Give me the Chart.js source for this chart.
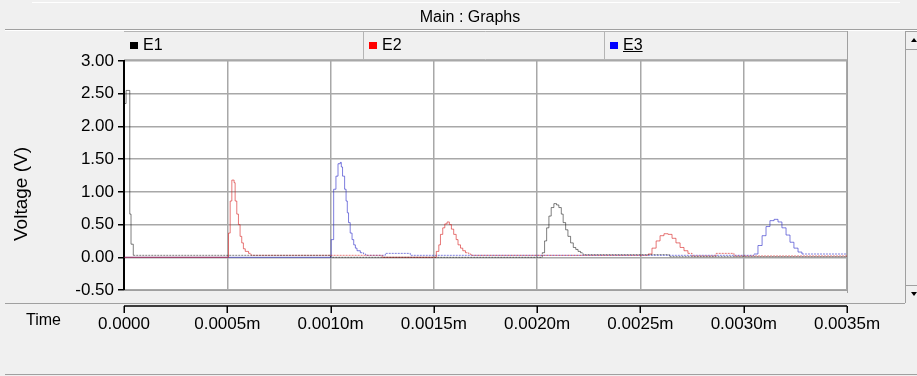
<!DOCTYPE html>
<html><head><meta charset="utf-8">
<script src="https://cdn.jsdelivr.net/npm/chart.js@4/dist/chart.umd.min.js"></script>
<style>
html,body{margin:0;padding:0;background:#f0f0f0;}
#wrap{position:relative;width:917px;height:376px;overflow:hidden;font-family:"Liberation Sans",Arial,sans-serif;color:#000;}
#c{position:absolute;left:0;top:0;}
.t{position:absolute;white-space:nowrap;font-size:16px;line-height:1;}
.sq{position:absolute;width:8px;height:7px;}
</style></head><body>
<div id="wrap">
<canvas id="c" width="917" height="376"></canvas>
<div class="t" id="title" style="left:0;width:940px;top:9px;text-align:center">Main : Graphs</div>
<div id="legend"></div>
<div class="t" id="ytitle" style="left:20px;top:194px;font-size:19px;transform:translate(-50%,-50%) rotate(-90deg)">Voltage (V)</div>
<div class="t" id="xtitle" style="left:26px;top:312px">Time</div>
</div>
<script>
// ---- data ----
const seriesNames = ["E1", "E2", "E3"];
const legendColors = ["#000000", "#ff0000", "#0000ff"];
const lineColors = ["rgba(0,0,0,0.5)", "rgba(215,30,30,0.6)", "rgba(40,40,200,0.6)"];

const tE1 = [0, 0.000002, 0.000010, 0.000028, 0.000034, 0.000045, 0.001000, 0.002025, 0.002036, 0.002046, 0.002057, 0.002068, 0.002081, 0.002094, 0.002105, 0.002117, 0.002126, 0.002138, 0.002149, 0.002162, 0.002175, 0.002187, 0.002198, 0.002210, 0.002222, 0.002640, 0.003500];
const vE1 = [0, 2.35, 2.55, 0.66, 0.20, 0.03, 0.00, 0.07, 0.25, 0.45, 0.63, 0.76, 0.82, 0.80, 0.76, 0.66, 0.53, 0.42, 0.32, 0.22, 0.15, 0.12, 0.09, 0.07, 0.04, 0.01, 0.01];

const tE2 = [0, 0.000506, 0.000514, 0.000522, 0.000533, 0.000538, 0.000546, 0.000554, 0.000562, 0.000570, 0.000578, 0.000587, 0.000603, 0.000615, 0.001250, 0.001512, 0.001524, 0.001532, 0.001543, 0.001553, 0.001564, 0.001575, 0.001585, 0.001596, 0.001608, 0.001617, 0.001629, 0.001640, 0.001653, 0.001669, 0.001680, 0.002537, 0.002556, 0.002576, 0.002595, 0.002614, 0.002634, 0.002653, 0.002672, 0.002692, 0.002711, 0.002730, 0.002750, 0.002866, 0.002953, 0.003500];
const vE2 = [0, 0.37, 0.86, 1.18, 1.14, 0.86, 0.66, 0.50, 0.32, 0.22, 0.13, 0.09, 0.06, 0.03, 0.00, 0.09, 0.19, 0.35, 0.45, 0.51, 0.54, 0.50, 0.43, 0.35, 0.27, 0.19, 0.14, 0.10, 0.07, 0.05, 0.03, 0.05, 0.14, 0.25, 0.33, 0.36, 0.35, 0.29, 0.22, 0.15, 0.10, 0.06, 0.02, 0.06, 0.02, 0.02];

const tE3 = [0, 0.001003, 0.001015, 0.001026, 0.001036, 0.001047, 0.001052, 0.001058, 0.001068, 0.001075, 0.001081, 0.001087, 0.001095, 0.001104, 0.001112, 0.001120, 0.001128, 0.001144, 0.001160, 0.001170, 0.001265, 0.001386, 0.003050, 0.003069, 0.003089, 0.003108, 0.003127, 0.003147, 0.003166, 0.003185, 0.003205, 0.003224, 0.003243, 0.003263, 0.003282, 0.003500];
const vE3 = [0, 0.27, 1.04, 1.24, 1.43, 1.45, 1.38, 1.24, 1.04, 0.86, 0.68, 0.53, 0.37, 0.27, 0.19, 0.14, 0.10, 0.07, 0.05, 0.03, 0.06, 0.03, 0.05, 0.18, 0.33, 0.47, 0.56, 0.58, 0.54, 0.45, 0.34, 0.23, 0.14, 0.08, 0.05, 0.05];

const xTickValues = [0, 0.0005, 0.0010, 0.0015, 0.0020, 0.0025, 0.0030, 0.0035];
const xTickLabels = ["0.0000", "0.0005m", "0.0010m", "0.0015m", "0.0020m", "0.0025m", "0.0030m", "0.0035m"];
const yTickValues = [-0.5, 0, 0.5, 1.0, 1.5, 2.0, 2.5, 3.0];

// ---- legend (HTML text) ----
const legendCells = [124, 363, 604];
const lg = document.getElementById('legend');
seriesNames.forEach((n, i) => {
  const sq = document.createElement('div');
  sq.className = 'sq';
  sq.style.left = (legendCells[i] + 6) + 'px';
  sq.style.top = '42px';
  sq.style.background = legendColors[i];
  lg.appendChild(sq);
  const tx = document.createElement('div');
  tx.className = 't';
  tx.style.left = (legendCells[i] + 19) + 'px';
  tx.style.top = '37px';
  tx.textContent = n;
  if (i === 2) tx.style.textDecoration = 'underline';
  lg.appendChild(tx);
});

const pts = (t, v) => t.map((x, i) => ({x: x, y: v[i]}));
const FONT = '"Liberation Sans", Arial, sans-serif';

const chrome = {
  id: 'chrome',
  beforeDraw(chart) {
    const ctx = chart.ctx, a = chart.chartArea;
    ctx.save();
    ctx.fillStyle = '#f0f0f0';
    ctx.fillRect(0, 0, 917, 376);
    ctx.fillStyle = '#ffffff';
    ctx.fillRect(32, 2, 868, 1);
    ctx.fillStyle = '#a0a0a0';
    ctx.fillRect(5, 29, 912, 1);
    ctx.fillStyle = '#ffffff';
    ctx.fillRect(5, 30, 912, 1);
    ctx.strokeStyle = '#b4b4b4';
    ctx.lineWidth = 1;
    ctx.beginPath();
    ctx.moveTo(124, 31.5); ctx.lineTo(847, 31.5);
    ctx.moveTo(124, 59.5); ctx.lineTo(847, 59.5);
    [363, 604, 847].forEach(x => { ctx.moveTo(x + 0.5, 31); ctx.lineTo(x + 0.5, 60); });
    ctx.stroke();
    ctx.fillStyle = '#ffffff';
    ctx.fillRect(a.left, a.top, a.right - a.left, a.bottom - a.top);
    ctx.restore();
  },
  afterDraw(chart) {
    const ctx = chart.ctx, a = chart.chartArea, xs = chart.scales.x;
    ctx.save();
    ctx.strokeStyle = '#a0a0a0';
    ctx.lineWidth = 1;
    ctx.beginPath();
    ctx.moveTo(847.5, 31); ctx.lineTo(847.5, 293);
    ctx.moveTo(a.left, a.bottom + 0.5); ctx.lineTo(848, a.bottom + 0.5);
    ctx.moveTo(5, 303.5); ctx.lineTo(905, 303.5);
    ctx.moveTo(5, 374.5); ctx.lineTo(917, 374.5);
    ctx.moveTo(905.5, 31); ctx.lineTo(905.5, 303);
    ctx.moveTo(906, 31.5); ctx.lineTo(917, 31.5);
    ctx.moveTo(906, 49.5); ctx.lineTo(917, 49.5);
    ctx.moveTo(906, 285.5); ctx.lineTo(917, 285.5);
    ctx.stroke();
    ctx.fillStyle = '#000';
    ctx.beginPath();
    ctx.moveTo(911, 42); ctx.lineTo(917, 42); ctx.lineTo(914, 38); ctx.closePath(); ctx.fill();
    ctx.beginPath();
    ctx.moveTo(911, 292); ctx.lineTo(917, 292); ctx.lineTo(914, 296); ctx.closePath(); ctx.fill();
    ctx.strokeStyle = '#000';
    ctx.lineWidth = 1.5;
    ctx.beginPath();
    const x0 = xs.getPixelForValue(xTickValues[0]);
    const x1 = xs.getPixelForValue(xTickValues[xTickValues.length - 1]);
    ctx.moveTo(x0, 306); ctx.lineTo(x1, 306);
    xTickValues.forEach(v => {
      const px = Math.round(xs.getPixelForValue(v)) + 0.25;
      ctx.moveTo(px, 306); ctx.lineTo(px, 313);
    });
    ctx.stroke();
    ctx.restore();
  }
};

const baseDash = ctx => (ctx.p0.parsed.y < 0.08 && ctx.p1.parsed.y < 0.08) ? [2, 1] : undefined;

new Chart(document.getElementById('c'), {
  type: 'line',
  data: {
    datasets: [
      {label: seriesNames[0], data: pts(tE1, vE1), borderColor: lineColors[0]},
      {label: seriesNames[1], data: pts(tE2, vE2), borderColor: lineColors[1]},
      {label: seriesNames[2], data: pts(tE3, vE3), borderColor: lineColors[2]}
    ].map(d => Object.assign(d, {borderWidth: 1, pointRadius: 0, stepped: true, fill: false, tension: 0, segment: {borderDash: baseDash}}))
  },
  options: {
    responsive: false,
    animation: false,
    layout: {padding: {top: 61, right: 70, left: 0, bottom: 0}},
    plugins: {legend: {display: false}, tooltip: {enabled: false}, title: {display: false}},
    scales: {
      x: {
        type: 'linear', min: 0, max: 0.0035,
        afterBuildTicks: s => { s.ticks = xTickValues.map(v => ({value: v})); },
        afterFit: s => { s.height = 86; },
        grid: {color: '#a8a8a8', lineWidth: 1.5, drawTicks: false},
        border: {display: false},
        ticks: {
          padding: 24, color: '#000', maxRotation: 0, autoSkip: false,
          font: {family: FONT, size: 17},
          callback: (v, i) => xTickLabels[i]
        }
      },
      y: {
        type: 'linear', min: -0.5, max: 3.0,
        afterBuildTicks: s => { s.ticks = yTickValues.map(v => ({value: v})); },
        afterFit: s => { s.width = 124; },
        grid: {color: '#a8a8a8', lineWidth: 1.5, drawTicks: true, tickLength: 6, tickColor: '#000', tickWidth: 1.5},
        border: {display: true, color: '#000', width: 2},
        ticks: {
          padding: 4, color: '#000',
          font: {family: FONT, size: 17},
          callback: v => Number(v).toFixed(2)
        }
      }
    }
  },
  plugins: [chrome]
});
</script>
</body></html>
